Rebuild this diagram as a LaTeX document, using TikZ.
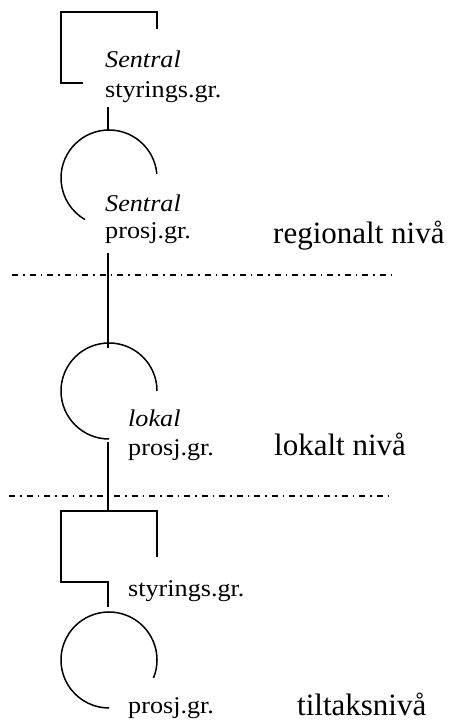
\documentclass[tikz,border=0pt]{standalone}
\usepackage{fontspec}
\setmainfont{Liberation Serif}
\begin{document}
\begin{tikzpicture}[x=1pt,y=1pt,
  sm/.style={anchor=base west,inner sep=0pt,xscale=1.09,transform shape,font=\fontsize{24}{28}\selectfont},
  lvl/.style={anchor=base west,inner sep=0pt,font=\fontsize{31}{36}\selectfont},
  shp/.style={line width=1.5pt},
  dd/.style={line width=1.2pt,dash pattern=on 6pt off 5pt on 1.5pt off 5pt}]
\useasboundingbox (0,0) rectangle (452,722);
% texts
\node[sm] (t1a) at (105,654) {\itshape Sentral};
\node[sm] (t1b) at (105,624) {styrings.gr.};
\node[sm] (t2a) at (105,510) {\itshape Sentral};
\node[sm] (t2b) at (105,483) {prosj.gr.};
\node[sm] (t3a) at (128,295) {\itshape lokal};
\node[sm] (t3b) at (128,266) {prosj.gr.};
\node[sm] (t4) at (128,125) {styrings.gr.};
\node[sm] (t5) at (128,9) {prosj.gr.};
\node[lvl] (L1) at (273,478) {regionalt nivå};
\node[lvl] (L2) at (274,266) {lokalt nivå};
\node[lvl] (L3) at (297,6) {tiltaksnivå};
% coordinates
\coordinate (c1) at (109,544);
\coordinate (c2) at (109,331);
\coordinate (c3) at (109,62);
% top bracket
\draw[shp] (157,693) -- (157,710) -- (61,710) -- (61,639) -- (83,639);
\draw[shp] (108,615) -- (108,592);
\draw[shp] (c1) ++(5:48) arc[start angle=5,end angle=240,radius=48];
\draw[shp] (108,469) -- (108,374);
\draw[dd] (12,447) -- (393,447);
\draw[shp] (c2) ++(0:48) arc[start angle=0,end angle=270,radius=48];
\draw[shp] (108,280) -- (108,211);
\draw[dd] (9,226) -- (392,226);
\draw[shp] (157,165) -- (157,211) -- (61,211) -- (61,140) -- (108,140) -- (108,115);
\draw[shp] (c3) ++(-22:48) arc[start angle=-22,end angle=270,radius=48];
\end{tikzpicture}
\end{document}
